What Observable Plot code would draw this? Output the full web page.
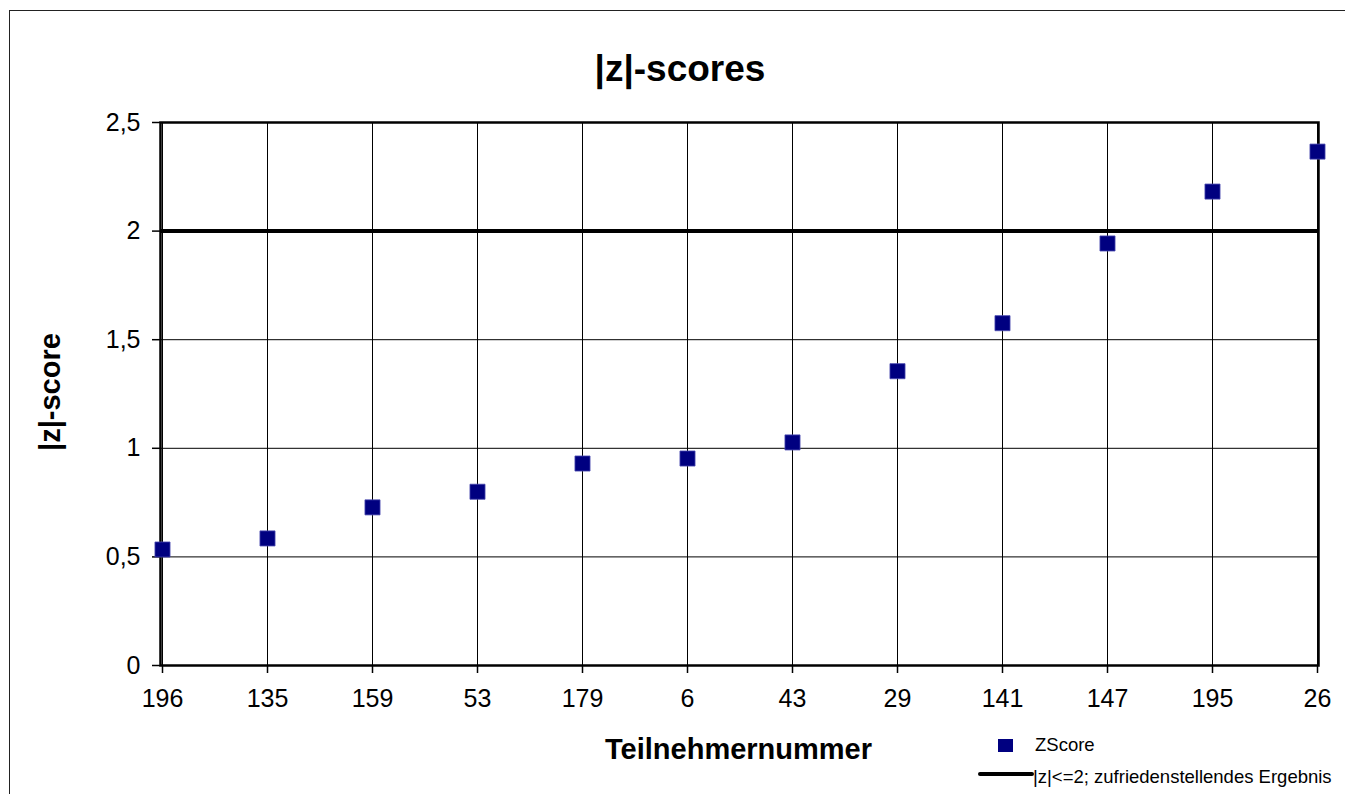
<!DOCTYPE html>
<html><head><meta charset="utf-8">
<script src="https://cdn.jsdelivr.net/npm/d3@7"></script>
<script src="https://cdn.jsdelivr.net/npm/@observablehq/plot@0.6"></script>
<style>
body{margin:0;background:#fff;font-family:"Liberation Sans",Arial,sans-serif;}
#wrap{position:relative;width:1345px;height:794px;overflow:hidden;}
#border{position:absolute;left:9px;top:10px;width:1400px;height:900px;border:1.5px solid #222;box-sizing:border-box;}
#title{position:absolute;left:0;width:1360px;top:50px;text-align:center;font-weight:bold;font-size:37px;line-height:1;}
.leg{position:absolute;font-size:18.5px;line-height:1;color:#000;white-space:nowrap;}
#chart{position:absolute;left:0;top:0;}
</style></head><body>
<div id="wrap">
<div id="border"></div>
<div id="chart"></div>
<div id="title">|z|-scores</div>
<div class="leg" style="left:998px;top:739px;width:15px;height:13px;background:#000080;"></div>
<div class="leg" style="left:1035px;top:736px;">ZScore</div>
<div class="leg" style="left:978px;top:772px;width:56px;height:4px;background:#000;border-radius:2px;"></div>
<div class="leg" style="left:1033px;top:768px;">|z|&lt;=2; zufriedenstellendes Ergebnis</div>
</div>
<script>
const participants = ["196","135","159","53","179","6","43","29","141","147","195","26"];
const zscores = [0.534,0.585,0.728,0.80,0.93,0.953,1.027,1.355,1.576,1.943,2.182,2.366];
const limit = 2;
const yTicks = [0,0.5,1,1.5,2,2.5];

const data = participants.map((p,i)=>({p, z: zscores[i]}));
const fmt = d => String(d).replace(".", ",");

const plot = Plot.plot({
  width:1345, height:794,
  marginLeft:160, marginRight:27, marginTop:122, marginBottom:129,
  style:{fontFamily:'"Liberation Sans",Arial,sans-serif', fontSize:"25px", background:"transparent", color:"#000"},
  x:{type:"point", domain:participants, padding:0, label:null},
  y:{domain:[0,2.5], ticks:yTicks, label:null},
  marks:[
    Plot.ruleX(participants, {x:d=>d, stroke:"#000", strokeWidth:1}),
    Plot.ruleY(yTicks, {y:d=>d, stroke:"#000", strokeWidth:1}),
    Plot.axisY({ticks:yTicks, tickFormat:fmt, tickSize:8, tickPadding:12, fontSize:25, stroke:"#000", strokeWidth:1.5}),
    Plot.axisX({tickSize:8, tickPadding:16, fontSize:25, stroke:"#000", strokeWidth:1.5}),
    Plot.frame({stroke:"#000", strokeWidth:2.5}),
    Plot.ruleY([limit], {stroke:"#000", strokeWidth:4}),
    Plot.dot(data, {x:"p", y:"z", symbol:"square", r:8.5, fill:"#000080", stroke:"#4a4ab0", strokeWidth:0.8}),
    Plot.text(["|z|-score"], {frameAnchor:"left", textAnchor:"middle", lineAnchor:"middle", dx:-110, dy:-2, rotate:-90, fontWeight:"bold", fontSize:29, text:d=>d}),
    Plot.text(["Teilnehmernummer"], {frameAnchor:"bottom", textAnchor:"middle", lineAnchor:"middle", dx:-1, dy:84, fontWeight:"bold", fontSize:29, text:d=>d})
  ]
});
document.getElementById("chart").appendChild(plot);
</script>
</body></html>
